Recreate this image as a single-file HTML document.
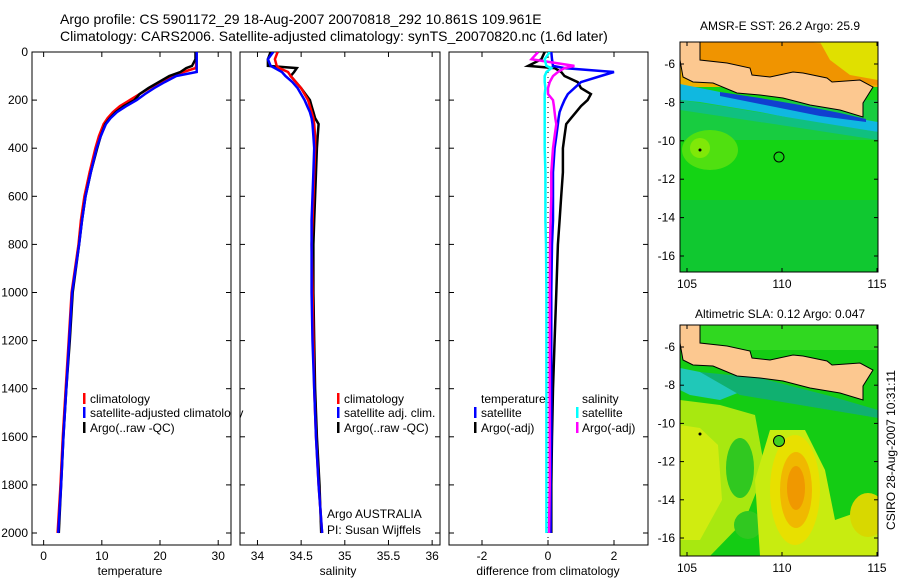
<!DOCTYPE html>
<html><head><meta charset="utf-8"><style>
body{margin:0;background:#fff;}
svg text{font-family:"Liberation Sans",sans-serif;fill:#000;}
</style></head><body>
<svg id="fig" width="900" height="580" viewBox="0 0 900 580" xmlns="http://www.w3.org/2000/svg">
<text x="60" y="24" font-size="14">Argo profile: CS 5901172_29 18-Aug-2007 20070818_292 10.861S 109.961E</text>
<text x="60" y="41" font-size="14">Climatology: CARS2006. Satellite-adjusted climatology: synTS_20070820.nc (1.6d later)</text>

<defs>
<clipPath id="c1"><rect x="32" y="52" width="199" height="493"/></clipPath>
<clipPath id="c2"><rect x="240" y="52" width="200" height="493"/></clipPath>
<clipPath id="c3"><rect x="449" y="52" width="199" height="493"/></clipPath>
<clipPath id="m1"><rect x="680" y="42" width="198" height="230"/></clipPath>
<clipPath id="m2"><rect x="680" y="325" width="198" height="231"/></clipPath>
</defs>

<g id="p1"></g>
<g id="p2"></g>
<g id="p3"></g>

<g font-size="12">
<rect x="83" y="393" width="2.5" height="11" fill="#f00"/><text x="90" y="403">climatology</text>
<rect x="83" y="407" width="2.5" height="11" fill="#00f"/><text x="90" y="417">satellite-adjusted climatology</text>
<rect x="83" y="422" width="2.5" height="11" fill="#000"/><text x="90" y="432">Argo(..raw -QC)</text>
</g>
<rect x="231.5" y="380" width="8" height="60" fill="#fff"/>
<g font-size="12">
<rect x="337" y="393" width="2.5" height="11" fill="#f00"/><text x="344" y="403">climatology</text>
<rect x="337" y="407" width="2.5" height="11" fill="#00f"/><text x="344" y="417">satellite adj. clim.</text>
<rect x="337" y="422" width="2.5" height="11" fill="#000"/><text x="344" y="432">Argo(..raw -QC)</text>
<text x="327" y="518">Argo AUSTRALIA</text>
<text x="327" y="534">PI: Susan Wijffels</text>
</g>
<g font-size="12">
<text x="481" y="403">temperature</text>
<rect x="474" y="407" width="2.5" height="11" fill="#00f"/><text x="481" y="417">satellite</text>
<rect x="474" y="422" width="2.5" height="11" fill="#000"/><text x="481" y="432">Argo(-adj)</text>
<text x="582" y="403">salinity</text>
<rect x="576" y="407" width="2.5" height="11" fill="#0ff"/><text x="582" y="417">satellite</text>
<rect x="576" y="422" width="2.5" height="11" fill="#f0f"/><text x="582" y="432">Argo(-adj)</text>
</g>

<text x="130" y="575" font-size="12" text-anchor="middle">temperature</text>
<text x="338" y="575" font-size="12" text-anchor="middle">salinity</text>
<text x="548" y="575" font-size="12" text-anchor="middle">difference from climatology</text>

<g>
<text x="780" y="30" font-size="12" text-anchor="middle">AMSR-E SST: 26.2 Argo: 25.9</text>
<g clip-path="url(#m1)">
<rect x="680" y="42" width="198" height="230" fill="#14d414"/>
<rect x="680" y="200" width="198" height="72" fill="#10c830"/>
<rect x="680" y="100" width="198" height="40" fill="#18cc40"/>
<ellipse cx="710" cy="150" rx="28" ry="20" fill="#50e010"/>
<ellipse cx="700" cy="148" rx="10" ry="10" fill="#80e808"/>
<rect x="680" y="42" width="198" height="45" fill="#f0b000"/>
<polygon points="700,42 810,42 860,50 878,45 878,85 820,82 760,80 700,70" fill="#f09400"/>
<polygon points="820,42 878,42 878,80 850,75 830,60" fill="#e0e000"/>
<polygon points="680,84 700,88 740,96 780,102 830,112 866,120 878,122 878,132 820,124 760,112 700,102 680,100" fill="#10b8e0"/>
<polygon points="720,92 760,98 800,105 840,113 866,119 866,122 820,116 760,104 720,96" fill="#1040d0"/>
<polygon points="680,100 720,106 780,116 878,132 878,140 800,128 720,116 680,110" fill="#10c080"/>
<polygon id="java1" points="680,42 700,42 700,60 727,63 750,68 752,75 770,77 793,72 803,73 827,78 832,82 860,80 873,87 863,103 863,117 840,110 810,105 783,98 760,95 737,93 713,83 693,82 683,77 680,60" fill="#fcc890" stroke="#000" stroke-width="1"/>
<circle cx="779" cy="157" r="5" fill="none" stroke="#000" stroke-width="1"/>
<circle cx="700" cy="150" r="1.5" fill="#000"/>
</g>
<rect x="680" y="42" width="198" height="230" fill="none" stroke="#000"/>
<g id="m1ticks" font-size="12"></g>
</g>

<g>
<text x="780" y="318" font-size="12" text-anchor="middle">Altimetric SLA: 0.12 Argo: 0.047</text>
<g clip-path="url(#m2)">
<rect x="680" y="325" width="198" height="231" fill="#14cc14"/>
<rect x="680" y="325" width="198" height="25" fill="#30d820"/>
<polygon points="680,400 720,405 755,415 765,470 745,520 710,556 680,556" fill="#a8e810"/>
<polygon points="680,425 700,428 718,445 722,500 700,540 680,540" fill="#d0ec10"/>
<ellipse cx="740" cy="468" rx="14" ry="30" fill="#30c820"/>
<ellipse cx="748" cy="525" rx="14" ry="14" fill="#30c820"/>
<polygon points="770,430 805,430 825,470 835,520 878,505 878,556 760,556 755,480" fill="#c8ec10"/>
<ellipse cx="795" cy="490" rx="25" ry="55" fill="#e8e000"/>
<ellipse cx="796" cy="490" rx="16" ry="38" fill="#f0b800"/>
<ellipse cx="796" cy="488" rx="9" ry="22" fill="#f09800"/>
<ellipse cx="868" cy="515" rx="18" ry="22" fill="#d8d800"/>
<polygon points="680,368 700,372 740,392 720,400 690,395 680,390" fill="#20c8b8"/>
<polygon points="700,372 760,378 830,396 878,410 878,418 800,405 740,395" fill="#10b070"/>
<use href="#java1" transform="translate(0,283)"/>
<circle cx="779" cy="441" r="5.5" fill="#40d020" stroke="#000" stroke-width="1"/>
<circle cx="700" cy="434" r="1.5" fill="#000"/>
</g>
<rect x="680" y="325" width="198" height="231" fill="none" stroke="#000"/>
<g id="m2ticks" font-size="12"></g>
</g>
<text transform="translate(895,450) rotate(-90)" font-size="12" text-anchor="middle">CSIRO 28-Aug-2007 10:31:11</text>
</svg>
<script>
const depths = [0,30,58,67,83,100,125,150,175,200,225,250,275,300,350,400,500,600,700,800,1000,1200,1400,1600,1800,2000];
const tempClim = [26.2,26.2,26.2,26.1,24,22,20,18.2,16.5,14.8,13.1,11.9,11,10.3,9.5,8.9,7.9,7,6.4,6,4.8,4.3,3.8,3.3,2.9,2.4];
const tempSat  = [26.3,26.3,26.3,26.3,26.3,22.8,20.8,19,17.4,16,14.2,12.6,11.5,10.7,9.8,9.1,8.1,7.2,6.6,6.1,4.9,4.4,3.9,3.4,3.0,2.5];
const tempArgo = [26.1,26.1,25.5,24.5,23.5,21.6,19.8,18,16.5,15.6,13.8,12.4,11.4,10.6,9.8,9.2,8.1,7.2,6.6,6.1,5.0,4.5,3.9,3.4,3.0,2.6];
const salClim = [34.23,34.2,34.22,34.25,34.35,34.38,34.44,34.5,34.54,34.58,34.6,34.62,34.64,34.65,34.66,34.66,34.65,34.64,34.63,34.62,34.63,34.64,34.65,34.67,34.7,34.74];
const salSat  = [34.18,34.12,34.15,34.2,34.28,34.32,34.4,34.46,34.5,34.54,34.57,34.6,34.62,34.63,34.64,34.65,34.64,34.63,34.62,34.62,34.62,34.63,34.65,34.67,34.7,34.74];
const salArgo = [34.15,34.12,34.12,34.45,34.42,34.38,34.44,34.5,34.55,34.6,34.62,34.64,34.66,34.7,34.69,34.68,34.67,34.66,34.65,34.64,34.64,34.65,34.66,34.68,34.71,34.73];
const dTempSat  = [0.1,0.12,0.15,0.5,2.0,1.6,1.0,0.8,0.6,0.5,0.42,0.35,0.32,0.3,0.25,0.2,0.15,0.15,0.15,0.12,0.1,0.1,0.1,0.1,0.08,0.08];
const dTempArgo = [-0.1,-0.2,-0.6,0.2,0.4,0.5,0.9,1.0,1.3,1.2,1.0,0.85,0.7,0.55,0.5,0.45,0.45,0.4,0.35,0.3,0.25,0.2,0.15,0.12,0.1,0.1];
const dSalSat   = [0.05,-0.1,-0.05,0.1,-0.05,-0.1,-0.1,-0.08,-0.1,-0.1,-0.1,-0.1,-0.1,-0.1,-0.1,-0.1,-0.08,-0.08,-0.08,-0.06,-0.05,-0.05,-0.05,-0.05,-0.05,-0.05];
const dSalArgo  = [-0.3,-0.5,0.8,0.5,0.3,0.15,0.05,0.0,0.0,0.15,0.18,0.2,0.22,0.25,0.2,0.15,0.1,0.1,0.08,0.06,0.05,0.05,0.05,0.05,0.05,0.03];
const depthTicks = [0,200,400,600,800,1000,1200,1400,1600,1800,2000];
const tempTicks = [0,10,20,30];
const salTicks = [34,34.5,35,35.5,36];
const salTickLabels = ["34","34.5","35","35.5","36"];
const diffTicks = [-2,0,2];
const lonTicks = [105,110,115];
const latTicks = [-6,-8,-10,-12,-14,-16];

const NS="http://www.w3.org/2000/svg";
function mk(tag,attrs,parent){const e=document.createElementNS(NS,tag);for(const k in attrs)e.setAttribute(k,attrs[k]);parent.appendChild(e);return e;}
const yD = d => 52 + d*0.2405;
function panel(id,x0,x1,vmin,vmax,clip,xTicks,xLabels,showY){
  const g=document.getElementById(id);
  const sx=v=>x0+(v-vmin)/(vmax-vmin)*(x1-x0);
  const box=mk('rect',{x:x0,y:52,width:x1-x0,height:493,fill:'none',stroke:'#000','stroke-width':1},g);
  
  
  depthTicks.forEach(d=>{
    mk('line',{x1:x0,x2:x0+5,y1:yD(d),y2:yD(d),stroke:'#000'},g);
    mk('line',{x1:x1-5,x2:x1,y1:yD(d),y2:yD(d),stroke:'#000'},g);
    if(showY){const t=mk('text',{x:x0-4,y:yD(d)+4,'font-size':12,'text-anchor':'end'},g);t.textContent=d;
      
      }
  });
  xTicks.forEach((v,i)=>{
    mk('line',{x1:sx(v),x2:sx(v),y1:52,y2:57,stroke:'#000'},g);
    mk('line',{x1:sx(v),x2:sx(v),y1:540,y2:545,stroke:'#000'},g);
    const t=mk('text',{x:sx(v),y:560,'font-size':12,'text-anchor':'middle'},g);t.textContent=xLabels[i];
    
    
  });
  const lg=mk('g',{'clip-path':'url(#'+clip+')'},g);
  return {sx,lg};
}
function line(p,vals,color,name,w){
  const pts=vals.map((v,i)=>p.sx(v).toFixed(1)+','+yD(depths[i]).toFixed(1)).join(' ');
  const e=mk('polyline',{points:pts,fill:'none',stroke:color,'stroke-width':w||2.5,'stroke-linejoin':'miter'},p.lg);
  
  
}
const P1=panel('p1',32,231,-2,32.2,'c1',tempTicks,tempTicks,true);
line(P1,tempClim,'#f00','temp-climatology-line');
line(P1,tempArgo,'#000','temp-argo-line');
line(P1,tempSat,'#00f','temp-satellite-line');
const P2=panel('p2',240,440,33.8,36.09,'c2',salTicks,salTickLabels,false);
line(P2,salArgo,'#000','sal-argo-line');
line(P2,salClim,'#f00','sal-climatology-line');
line(P2,salSat,'#00f','sal-satellite-line');
const P3=panel('p3',449,648,-3,3.03,'c3',diffTicks,diffTicks,false);
const z=mk('line',{x1:P3.sx(0),x2:P3.sx(0),y1:52,y2:545,stroke:'#000','stroke-dasharray':'1,4'},P3.lg);


line(P3,dTempArgo,'#000','diff-temp-argo-line');
line(P3,dTempSat,'#00f','diff-temp-satellite-line');
line(P3,dSalArgo,'#f0f','diff-sal-argo-line');
line(P3,dSalSat,'#0ff','diff-sal-satellite-line');

function mapTicks(id,top,bot,lat6,lat16){
  const g=document.getElementById(id);
  const lx=v=>687+(v-105)*19;
  const ly=v=>lat6+(v+6)/(-10)*(lat16-lat6);
  lonTicks.forEach(v=>{
    mk('line',{x1:lx(v),x2:lx(v),y1:top,y2:top+4,stroke:'#000'},g);
    mk('line',{x1:lx(v),x2:lx(v),y1:bot-4,y2:bot,stroke:'#000'},g);
    const t=mk('text',{x:lx(v),y:bot+16,'text-anchor':'middle'},g);t.textContent=v;
    
    
  });
  latTicks.forEach(v=>{
    mk('line',{x1:680,x2:684,y1:ly(v),y2:ly(v),stroke:'#000'},g);
    mk('line',{x1:874,x2:878,y1:ly(v),y2:ly(v),stroke:'#000'},g);
    const t=mk('text',{x:675,y:ly(v)+4,'text-anchor':'end'},g);t.textContent=v;
    
    
  });
}
mapTicks('m1ticks',42,272,64,256);
mapTicks('m2ticks',325,556,347,538);
</script>
</body></html>
